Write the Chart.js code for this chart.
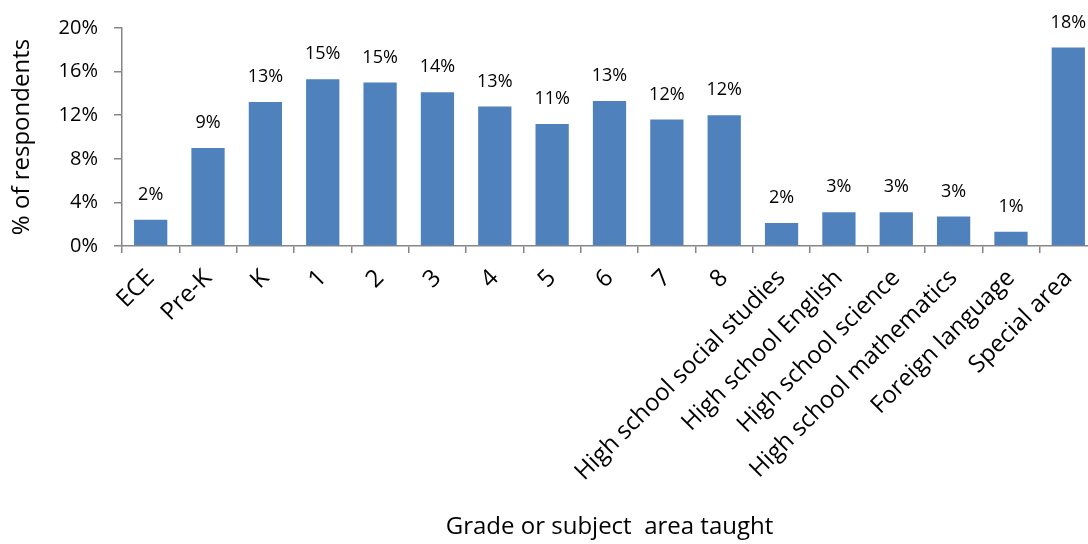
<!DOCTYPE html>
<html>
<head>
<meta charset="utf-8">
<script src="https://cdn.jsdelivr.net/npm/chart.js@4"></script>
<style>
  html, body { margin: 0; padding: 0; background: #fff; overflow: hidden; }
  #wrap { width: 1100px; height: 544px; }
</style>
</head>
<body>
<div id="wrap"><canvas id="chart"></canvas></div>
<script>
const categories = ['ECE', 'Pre-K', 'K', '1', '2', '3', '4', '5', '6', '7', '8',
  'High school social studies', 'High school English', 'High school science',
  'High school mathematics', 'Foreign language', 'Special area'];
const percentRespondents = [2.4, 9.0, 13.2, 15.3, 15.0, 14.1, 12.8, 11.2, 13.3, 11.6, 12.0,
  2.1, 3.1, 3.1, 2.7, 1.3, 18.2];
const yTicks = [0, 4, 8, 12, 16, 20];

const FONT = '"Open Sans", sans-serif';

// draws the rounded % above each bar
const barLabels = {
  id: 'barLabels',
  afterDatasetsDraw(chart) {
    const ctx = chart.ctx;
    const meta = chart.getDatasetMeta(0);
    ctx.save();
    ctx.font = '18px ' + FONT;
    ctx.fillStyle = '#000';
    ctx.textAlign = 'center';
    ctx.textBaseline = 'bottom';
    meta.data.forEach((bar, i) => {
      ctx.fillText(Math.round(percentRespondents[i]) + '%', bar.x, bar.y - 16);
    });
    ctx.restore();
  }
};

new Chart(document.getElementById('chart'), {
  type: 'bar',
  data: {
    labels: categories,
    datasets: [{
      data: percentRespondents,
      backgroundColor: '#4F81BD',
      barPercentage: 0.58,
      categoryPercentage: 1.0
    }]
  },
  plugins: [barLabels],
  options: {
    responsive: true,
    maintainAspectRatio: false,
    animation: false,
    layout: { padding: { top: 25, left: 8, right: 3, bottom: 2 } },
    plugins: {
      legend: { display: false },
      tooltip: { enabled: false }
    },
    scales: {
      x: {
        grid: { display: true, drawOnChartArea: false, offset: true, tickLength: 7, color: '#868686', lineWidth: 1.5 },
        border: { color: '#868686', width: 1.5 },
        ticks: { color: '#000', font: { family: FONT, size: 24 }, minRotation: 45, maxRotation: 45, autoSkip: false, padding: 11 },
        title: { display: true, text: 'Grade or subject  area taught', color: '#000', font: { family: FONT, size: 24 }, padding: { top: 0, bottom: 0 } },
        afterFit: (scale) => { scale.height = 296; }
      },
      y: {
        min: 0,
        max: 20,
        afterBuildTicks: (scale) => { scale.ticks = yTicks.map(v => ({ value: v })); },
        grid: { display: true, drawOnChartArea: false, tickLength: 8, color: '#868686', lineWidth: 1.5 },
        border: { color: '#868686', width: 1.5 },
        ticks: { color: '#000', font: { family: FONT, size: 20 }, padding: 16, callback: (v) => v + '%' },
        title: { display: true, text: '% of respondents', color: '#000', font: { family: FONT, size: 24 }, padding: { top: 0, bottom: 4 } },
        afterFit: (scale) => { scale.width = 114; }
      }
    }
  }
});
</script>
</body>
</html>
